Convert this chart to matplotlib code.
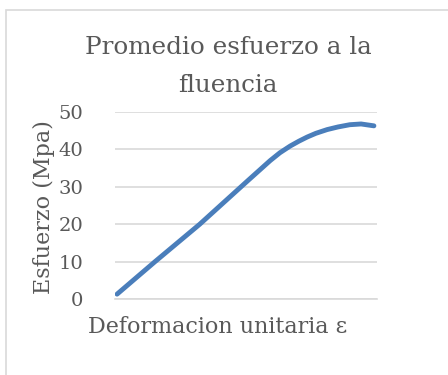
import matplotlib
matplotlib.use('Agg')
import matplotlib.pyplot as plt
from matplotlib.patches import Rectangle

# datos (deformacion unitaria vs esfuerzo en MPa)
deformacion = [0.0000, 0.0074, 0.0161, 0.0255, 0.0298, 0.0317, 0.0337, 0.0354,
               0.0370, 0.0387, 0.0409, 0.0430, 0.0453, 0.0475, 0.0500]
esfuerzo = [1.3, 10.0, 20.0, 31.7, 37.0, 39.1, 40.9, 42.2,
            43.3, 44.3, 45.3, 46.0, 46.6, 46.8, 46.3]
yticks = [0, 10, 20, 30, 40, 50]

texto = '#595959'
fuente = 'DejaVu Serif'

fig = plt.figure(figsize=(4.48, 3.75), dpi=100)
fig.patch.set_facecolor('white')

# borde del area del grafico (solo se ven izquierda y arriba)
fig.patches.append(Rectangle((6 / 448, -0.1), 1.2, 1 - 10 / 375 + 0.1,
                             transform=fig.transFigure, fill=False,
                             edgecolor='#d9d9d9', linewidth=1.2))

ax = fig.add_axes([115 / 448, 1 - 299 / 375, (377 - 115) / 448, (299 - 112) / 375])
ax.plot(deformacion, esfuerzo, color='#4a7ebb', linewidth=3.5,
        solid_capstyle='round', solid_joinstyle='round')

ax.set_ylim(0, 50)
ax.set_xlim(-0.0004, 0.0506)
ax.set_yticks(yticks)
ax.set_xticks([])
ax.grid(axis='y', color='#d9d9d9', linewidth=1.2)
ax.set_axisbelow(True)
for s in ax.spines.values():
    s.set_visible(False)
ax.spines['bottom'].set_visible(True)
ax.spines['bottom'].set_color('#d9d9d9')
ax.spines['bottom'].set_linewidth(1.2)
ax.tick_params(axis='y', length=0, pad=23, labelsize=14, labelcolor=texto)
for lbl in ax.get_yticklabels():
    lbl.set_fontfamily(fuente)

fig.text(228 / 448, 1 - 48 / 375, 'Promedio esfuerzo a la', ha='center', va='center',
         fontsize=17.7, color=texto, family=fuente)
fig.text(228 / 448, 1 - 85 / 375, 'fluencia', ha='center', va='center',
         fontsize=17.7, color=texto, family=fuente)
fig.text(218 / 448, 1 - 327 / 375, 'Deformacion unitaria ε', ha='center', va='center',
         fontsize=16, color=texto, family=fuente)
fig.text(44 / 448, 1 - 207 / 375, 'Esfuerzo (Mpa)', ha='center', va='center',
         rotation=90, fontsize=16, color=texto, family=fuente)

fig.savefig('out.png', dpi=100)
